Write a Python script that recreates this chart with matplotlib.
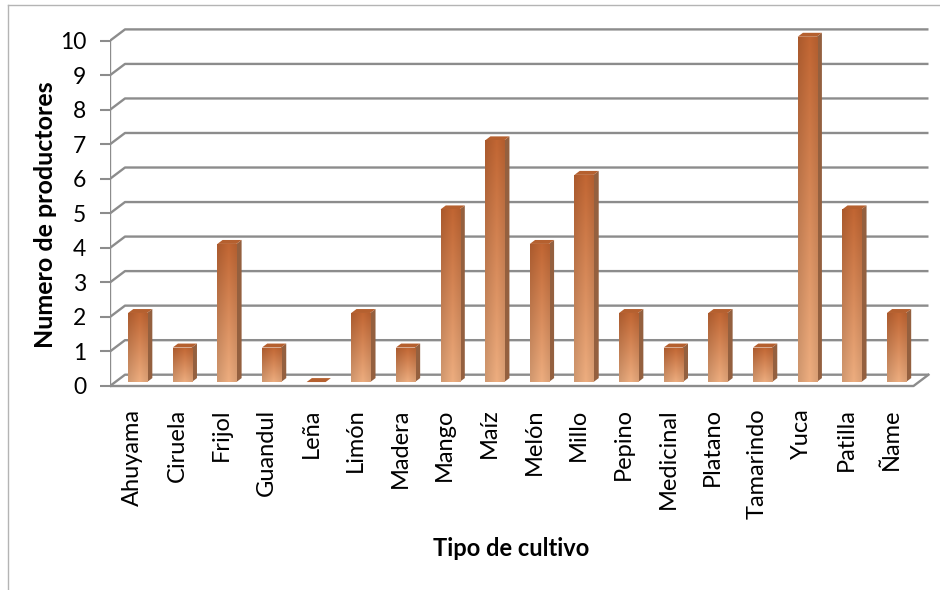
import numpy as np
import matplotlib
matplotlib.use("Agg")
import matplotlib.pyplot as plt
from matplotlib.patches import Polygon, Rectangle
from matplotlib.lines import Line2D

# ── data ──────────────────────────────────────────────────────────────────
cultivos = ["Ahuyama", "Ciruela", "Frijol", "Guandul", "Leña", "Limón",
            "Madera", "Mango", "Maíz", "Melón", "Millo", "Pepino",
            "Medicinal", "Platano", "Tamarindo", "Yuca", "Patilla", "Ñame"]
productores = [2, 1, 4, 1, 0, 2, 1, 5, 7, 4, 6, 2, 1, 2, 1, 10, 5, 2]
y_ticks = list(range(0, 11))

plt.rcParams["font.family"] = ["Lato", "DejaVu Sans"]

W, H = 940, 590
fig = plt.figure(figsize=(W / 100, H / 100), dpi=100)

# pixel layout of the front plane (value axis 0..10, categories -0.5..17.5)
x_left, x_right = 110, 913.5
y_zero, y_ten = 386, 40.7
sx = (x_right - x_left) / len(cultivos)
sy = (y_zero - y_ten) / 10.0

ax_l, ax_r, ax_t, ax_b = x_left, 935, 12, 396
ax = fig.add_axes([ax_l / W, 1 - ax_b / H, (ax_r - ax_l) / W, (ax_b - ax_t) / H])

# depth offset of the back wall, in data units
DX = 15 / sx
DY = 11.3 / sy
d0, d1 = 0.35, 0.70          # bar depth span
hw = 0.213                   # half width of bar front face

grid_c = "#8c8c8c"
n = len(cultivos)
x0, x1 = -0.5, n - 0.5

# back wall gridlines + left wall diagonals
for v in y_ticks:
    ax.plot([x0, x0 + DX, x1 + DX], [v, v + DY, v + DY],
            color=grid_c, lw=1.7, zorder=1, solid_capstyle="butt")
# floor
ax.plot([x0, x1, x1 + DX], [0, 0, DY], color=grid_c, lw=1.7, zorder=1)
# front value axis
ax.plot([x0, x0], [0, 10], color=grid_c, lw=1.7, zorder=5)

# gradient for the bar front faces
top_c = np.array([0.76, 0.40, 0.20])
bot_c = np.array([0.93, 0.68, 0.50])
ny, nx = 64, 16
t = np.linspace(1, 0, ny)[:, None, None]
u = np.linspace(0, 1, nx)[None, :, None]
grad = bot_c * (1 - t) + top_c * t
shade = 1 - 0.10 * np.abs(u - 0.6) * 2
grad = np.clip(grad * shade, 0, 1)

for i, v in enumerate(productores):
    fx0 = i - hw + d0 * DX
    fx1 = i + hw + d0 * DX
    fy0 = d0 * DY
    fy1 = v + d0 * DY
    ddx, ddy = (d1 - d0) * DX, (d1 - d0) * DY
    # right side face
    side = Polygon([(fx1, fy0), (fx1 + ddx, fy0 + ddy),
                    (fx1 + ddx, fy1 + ddy), (fx1, fy1)],
                   closed=True, facecolor="#94603f", edgecolor="none", zorder=3)
    ax.add_patch(side)
    # top face
    top = Polygon([(fx0, fy1), (fx1, fy1), (fx1 + ddx, fy1 + ddy),
                   (fx0 + ddx, fy1 + ddy)],
                  closed=True, facecolor="#b5602f", edgecolor="none", zorder=3)
    ax.add_patch(top)
    # front face
    if v > 0:
        rect = Rectangle((fx0, fy0), fx1 - fx0, fy1 - fy0,
                         facecolor="none", edgecolor="none", zorder=4)
        ax.add_patch(rect)
        im = ax.imshow(grad, extent=[fx0, fx1, fy0, fy1], aspect="auto",
                       interpolation="bilinear", zorder=4)
        im.set_clip_path(rect)

ax.set_xlim(-0.5, -0.5 + (ax_r - ax_l) / sx)
ax.set_ylim((y_zero - ax_b) / sy, (y_zero - ax_t) / sy)

for s in ax.spines.values():
    s.set_visible(False)
ax.set_yticks(y_ticks)
ax.set_yticklabels([str(v) for v in y_ticks])
ax.tick_params(axis="y", length=7, width=1.5, color=grid_c, pad=10,
               labelsize=16.5, labelcolor="black")
ax.set_xticks(range(n))
ax.set_xticklabels(cultivos, rotation=90, ha="center", va="top")
ax.tick_params(axis="x", length=0, pad=9, labelsize=17, labelcolor="black")

fig.text(46 / W, 1 - 215 / H, "Numero de productores", rotation=90,
         ha="center", va="center", fontsize=18, fontweight="bold")
fig.text(511 / W, 1 - 548 / H, "Tipo de cultivo",
         ha="center", va="center", fontsize=17, fontweight="bold")

# chart area border
fig.add_artist(Line2D([8 / W, 8 / W], [0, 1 - 5 / H], color="#b4b4b4", lw=1))
fig.add_artist(Line2D([8 / W, 1], [1 - 5 / H, 1 - 5 / H], color="#b4b4b4", lw=1))

fig.savefig("out.png", dpi=100)
